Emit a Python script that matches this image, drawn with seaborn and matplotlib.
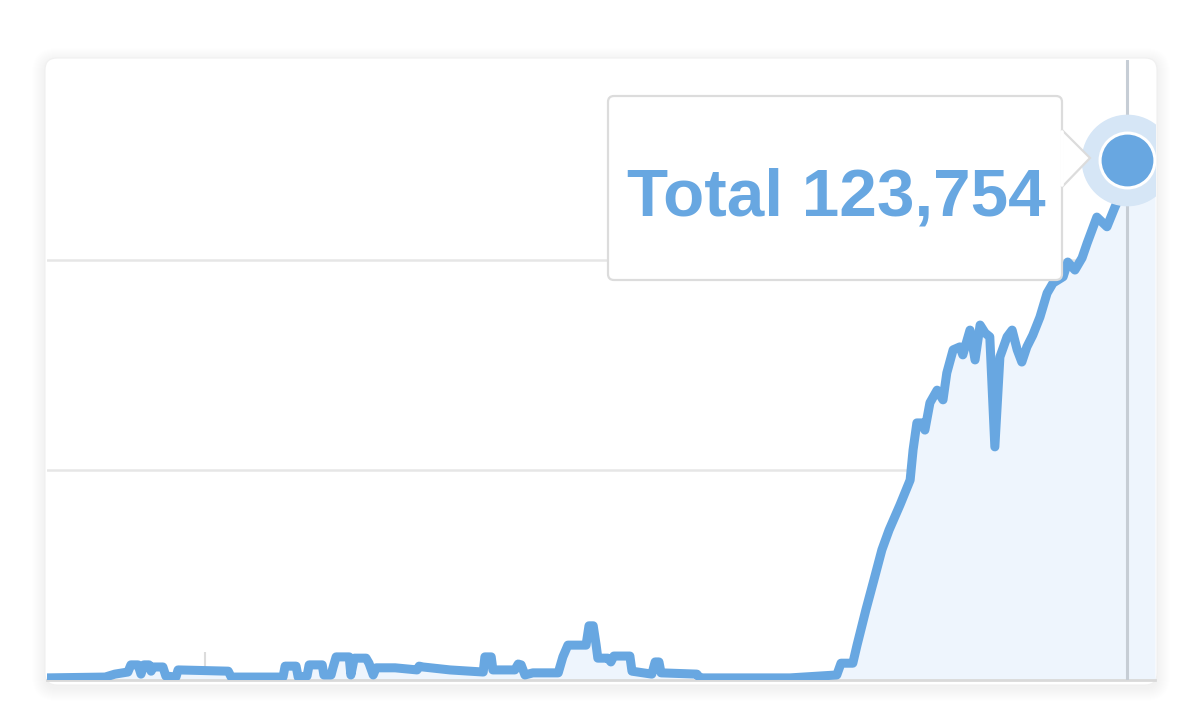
import matplotlib.pyplot as plt
import seaborn as sns
from matplotlib.patches import FancyBboxPatch, Polygon
from matplotlib.lines import Line2D
from matplotlib.transforms import IdentityTransform

# running total, x in decimal years
years = [2014.625, 2014.763, 2014.786, 2014.817, 2014.824, 2014.841, 2014.848, 2014.855,
         2014.867, 2014.872, 2014.877, 2014.900, 2014.907, 2014.931, 2014.936, 2015.055,
         2015.062, 2015.185, 2015.190, 2015.216, 2015.221, 2015.242, 2015.247, 2015.278,
         2015.282, 2015.299, 2015.304, 2015.311, 2015.342, 2015.346, 2015.354, 2015.382,
         2015.389, 2015.399, 2015.406, 2015.451, 2015.503, 2015.508, 2015.517, 2015.581,
         2015.660, 2015.664, 2015.679, 2015.683, 2015.735, 2015.743, 2015.750, 2015.759,
         2015.778, 2015.838, 2015.849, 2015.861, 2015.904, 2015.911, 2015.921, 2015.928,
         2015.932, 2015.956, 2015.963, 2015.970, 2016.008, 2016.013, 2016.060, 2016.068,
         2016.077, 2016.082, 2016.167, 2016.174, 2016.388, 2016.499, 2016.509, 2016.537,
         2016.547, 2016.568, 2016.587, 2016.606, 2016.623, 2016.649, 2016.673, 2016.680,
         2016.689, 2016.701, 2016.708, 2016.720, 2016.737, 2016.751, 2016.760, 2016.775,
         2016.791, 2016.798, 2016.815, 2016.827, 2016.839, 2016.851, 2016.862, 2016.874,
         2016.886, 2016.903, 2016.915, 2016.927, 2016.938, 2016.950, 2016.964, 2016.981,
         2016.998, 2017.012, 2017.036, 2017.047, 2017.064, 2017.081, 2017.093, 2017.116,
         2017.140, 2017.159, 2017.178, 2017.187, 2017.218, 2017.254]
totals = [500, 700, 1400, 1900, 3600, 3600, 1400, 3600,
          3600, 2100, 3100, 3100, 950, 700, 2400, 2100,
          700, 700, 3300, 3300, 700, 950, 3600, 3600,
          1200, 1200, 3100, 5500, 5500, 1200, 5200, 5200,
          4000, 1200, 2900, 2900, 2400, 3300, 3100, 2400,
          1900, 5500, 5500, 2400, 2400, 3800, 3600, 1200,
          1700, 1700, 5500, 8300, 8300, 12900, 12900, 8300,
          5200, 5200, 4300, 5700, 5700, 2100, 1400, 4300,
          4300, 1700, 1400, 500, 500, 1200, 4000, 4000,
          8300, 16700, 23800, 31000, 35700, 41700, 47600, 54800,
          61200, 61200, 59500, 66000, 69000, 66700, 73100, 78600,
          79300, 77400, 83300, 76200, 84500, 82600, 81700, 55500,
          76900, 81700, 83300, 78600, 75700, 79300, 82100, 86400,
          92100, 94500, 96000, 99500, 97600, 100500, 104000, 110200,
          107900, 112600, 116700, 123754, 121000, 117900]

hover_year = 2017.187
hover_total = 123754
year_ticks = [2015, 2016, 2017]
grid_levels = [50000, 100000]

BLUE = '#68a7e1'
FILL = '#eef5fd'

sns.set_style('white')
plt.rcParams['font.family'] = ['Liberation Sans', 'DejaVu Sans']

W, H = 1200, 727
fig = plt.figure(figsize=(12, 7.27), dpi=100)
px = IdentityTransform()


def card(x0, y0, x1, y1, r, **kw):
    # pixel box, origin top-left
    return FancyBboxPatch((x0, H - y1), x1 - x0, y1 - y0, transform=px,
                          boxstyle=f'round,pad=0,rounding_size={r}', **kw)


# soft shadow + card
for s in range(1, 14):
    fig.add_artist(card(45 - s, 58 - s + 3, 1157 + s, 685 + s + 3, 12 + s,
                        fc='black', ec='none', alpha=0.005, zorder=-3))
fig.add_artist(card(45, 58, 1157, 685, 12, fc='white', ec='#f0f0f0', lw=0.8, zorder=-2))

ax = fig.add_axes([47 / W, (H - 680) / H, 1108 / W, 620 / H])
ax.patch.set_alpha(0)

ax.fill_between(years, totals, 0, color=FILL, lw=0, zorder=1)
ax.axvline(hover_year, color='#c6cdd5', lw=2.2, zorder=3)
sns.lineplot(x=years, y=totals, ax=ax, color=BLUE, lw=6.5, estimator=None, sort=False,
             solid_joinstyle='round', solid_capstyle='round', zorder=4)
ax.plot([hover_year], [hover_total], 'o', ms=65, color='#d6e6f6', zorder=5)
ax.plot([hover_year], [hover_total], 'o', ms=39.5, mfc=BLUE, mec='white', mew=2.2, zorder=6)

ax.set_xlim(2014.625, 2017.254)
ax.set_ylim(0, 147600)
ax.set_xticks(year_ticks)
ax.set_yticks(grid_levels)
ax.grid(axis='y', color='#e6e6e6', lw=1.8)
ax.grid(axis='x', visible=False)
ax.set_axisbelow(True)
ax.tick_params(axis='x', bottom=True, direction='in', length=20, width=1.5,
               color='#dcdcdc', labelbottom=False)
ax.tick_params(axis='y', left=False, labelleft=False)
ax.set_xlabel('')
ax.set_ylabel('')
sns.despine(ax=ax, left=True)
ax.spines['bottom'].set_color('#d9d9d9')
ax.spines['bottom'].set_linewidth(2)

# tooltip
fig.add_artist(card(608, 96, 1062, 280, 6, fc='white', ec='#dcdcdc', lw=1.6, zorder=6))
fig.add_artist(Polygon([(1062, H - 130), (1090, H - 158), (1062, H - 187)], closed=True,
                       transform=px, fc='white', ec='#dcdcdc', lw=1.6, zorder=7))
fig.add_artist(Line2D([1062, 1062], [H - 132, H - 185], transform=px, color='white',
                      lw=2.6, zorder=8))
fig.text(627, H - 215, f'Total {hover_total:,}', transform=px, fontsize=48.5,
         fontweight='bold', color=BLUE, ha='left', va='baseline', zorder=9)

fig.savefig('out.png', dpi=100, facecolor='white')
